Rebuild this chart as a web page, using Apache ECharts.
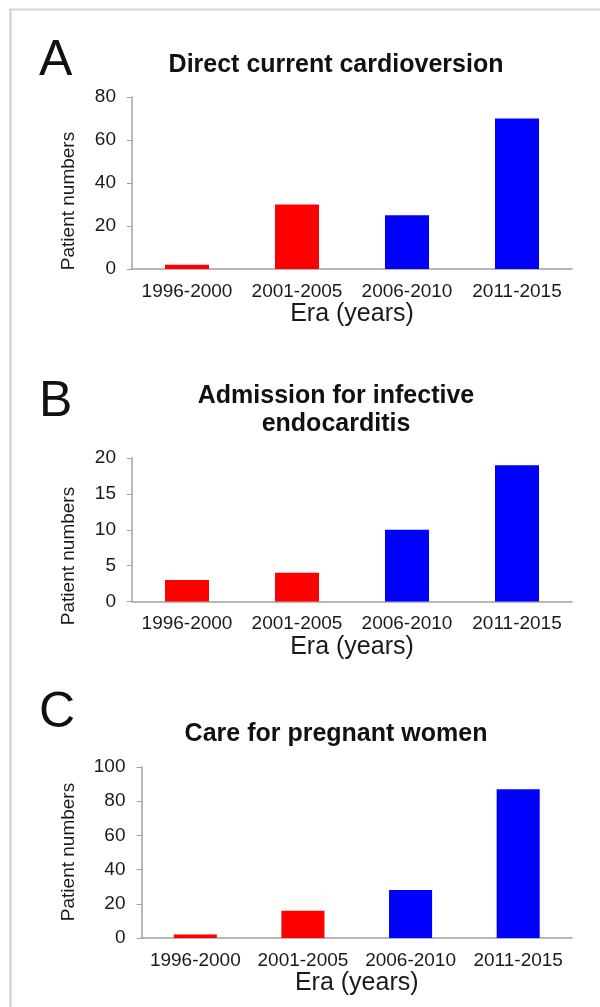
<!DOCTYPE html>
<html>
<head>
<meta charset="utf-8">
<script src="https://cdn.jsdelivr.net/npm/echarts@6/dist/echarts.min.js"></script>
<style>
html, body { margin: 0; padding: 0; background: #fff; }
#main { width: 600px; height: 1007px; }
</style>
</head>
<body>
<div id="main"></div>
<script>
// data
var eras = ['1996-2000', '2001-2005', '2006-2010', '2011-2015'];
var eraColors = ['#ff0000', '#ff0000', '#0000ff', '#0000ff'];
var cardioversion = [2, 30, 25, 70];
var endocarditis = [3, 4, 10, 19];
var pregnancy = [2, 16, 28, 87];
var panelTitles = ['Direct current cardioversion', 'Admission for infective\nendocarditis', 'Care for pregnant women'];
var panelLetters = ['A', 'B', 'C'];
var yMax = [80, 20, 100];
var yStep = [20, 5, 20];

var FONT = "'Liberation Sans', Arial, sans-serif";
var series_data = [cardioversion, endocarditis, pregnancy];

// layout of the three panels
var grids = [
  { left: 132, right: 28, top: 97, height: 172 },
  { left: 132, right: 28, top: 458, height: 143.5 },
  { left: 141.5, right: 28, top: 767, height: 171 }
];
var titleTop = [51, 382, 720];
var letterTop = [36, 377, 688];
var yNameY = [201, 556, 852];

var chart = echarts.init(document.getElementById('main'));

var xAxes = [], yAxes = [], series = [], titles = [], graphics = [];
for (var i = 0; i < 3; i++) {
  xAxes.push({
    type: 'category',
    gridIndex: i,
    data: eras,
    name: 'Era (years)',
    nameLocation: 'middle',
    nameGap: 31,
    nameTextStyle: { fontFamily: FONT, fontSize: 25, color: '#1a1a1a' },
    axisLine: { lineStyle: { color: '#a0a0a0', width: 1.5 } },
    axisTick: { show: false },
    axisLabel: { interval: 0, margin: 13, fontFamily: FONT, fontSize: 19, color: '#1a1a1a' },
    splitLine: { show: false }
  });
  yAxes.push({
    type: 'value',
    gridIndex: i,
    min: 0,
    max: yMax[i],
    interval: yStep[i],
    axisLine: { show: true, lineStyle: { color: '#a0a0a0', width: 1.5 } },
    axisTick: { show: true, length: 5, lineStyle: { color: '#a0a0a0' } },
    axisLabel: { margin: 16, fontFamily: FONT, fontSize: 19, color: '#1a1a1a' },
    splitLine: { show: false }
  });
  series.push({
    type: 'bar',
    xAxisIndex: i,
    yAxisIndex: i,
    barWidth: '40%',
    data: series_data[i].map(function (v, k) {
      return { value: v, itemStyle: { color: eraColors[k] } };
    })
  });
  titles.push({
    text: panelTitles[i],
    left: 336,
    top: titleTop[i],
    textAlign: 'center',
    padding: 0,
    textStyle: { fontFamily: FONT, fontSize: 25, fontWeight: 'bold', color: '#111', lineHeight: 28 }
  });
  titles.push({
    text: panelLetters[i],
    left: 39,
    top: letterTop[i],
    padding: 0,
    textStyle: { fontFamily: FONT, fontSize: 50, fontWeight: 'normal', color: '#111', lineHeight: 50 }
  });
  graphics.push({
    type: 'text',
    x: 69,
    y: yNameY[i],
    rotation: Math.PI / 2,
    style: {
      text: 'Patient numbers',
      font: '19px ' + FONT,
      fill: '#1a1a1a',
      align: 'center',
      verticalAlign: 'middle'
    }
  });
}

// light frame on the top and left edges
graphics.push({ type: 'line', shape: { x1: 9, y1: 9.5, x2: 600, y2: 9.5 }, style: { stroke: '#d6d6d6', lineWidth: 2 } });
graphics.push({ type: 'line', shape: { x1: 10.5, y1: 9, x2: 10.5, y2: 1007 }, style: { stroke: '#d6d6d6', lineWidth: 2.5 } });

chart.setOption({
  animation: false,
  backgroundColor: '#fff',
  title: titles,
  grid: grids,
  xAxis: xAxes,
  yAxis: yAxes,
  series: series,
  graphic: graphics
});
</script>
</body>
</html>
